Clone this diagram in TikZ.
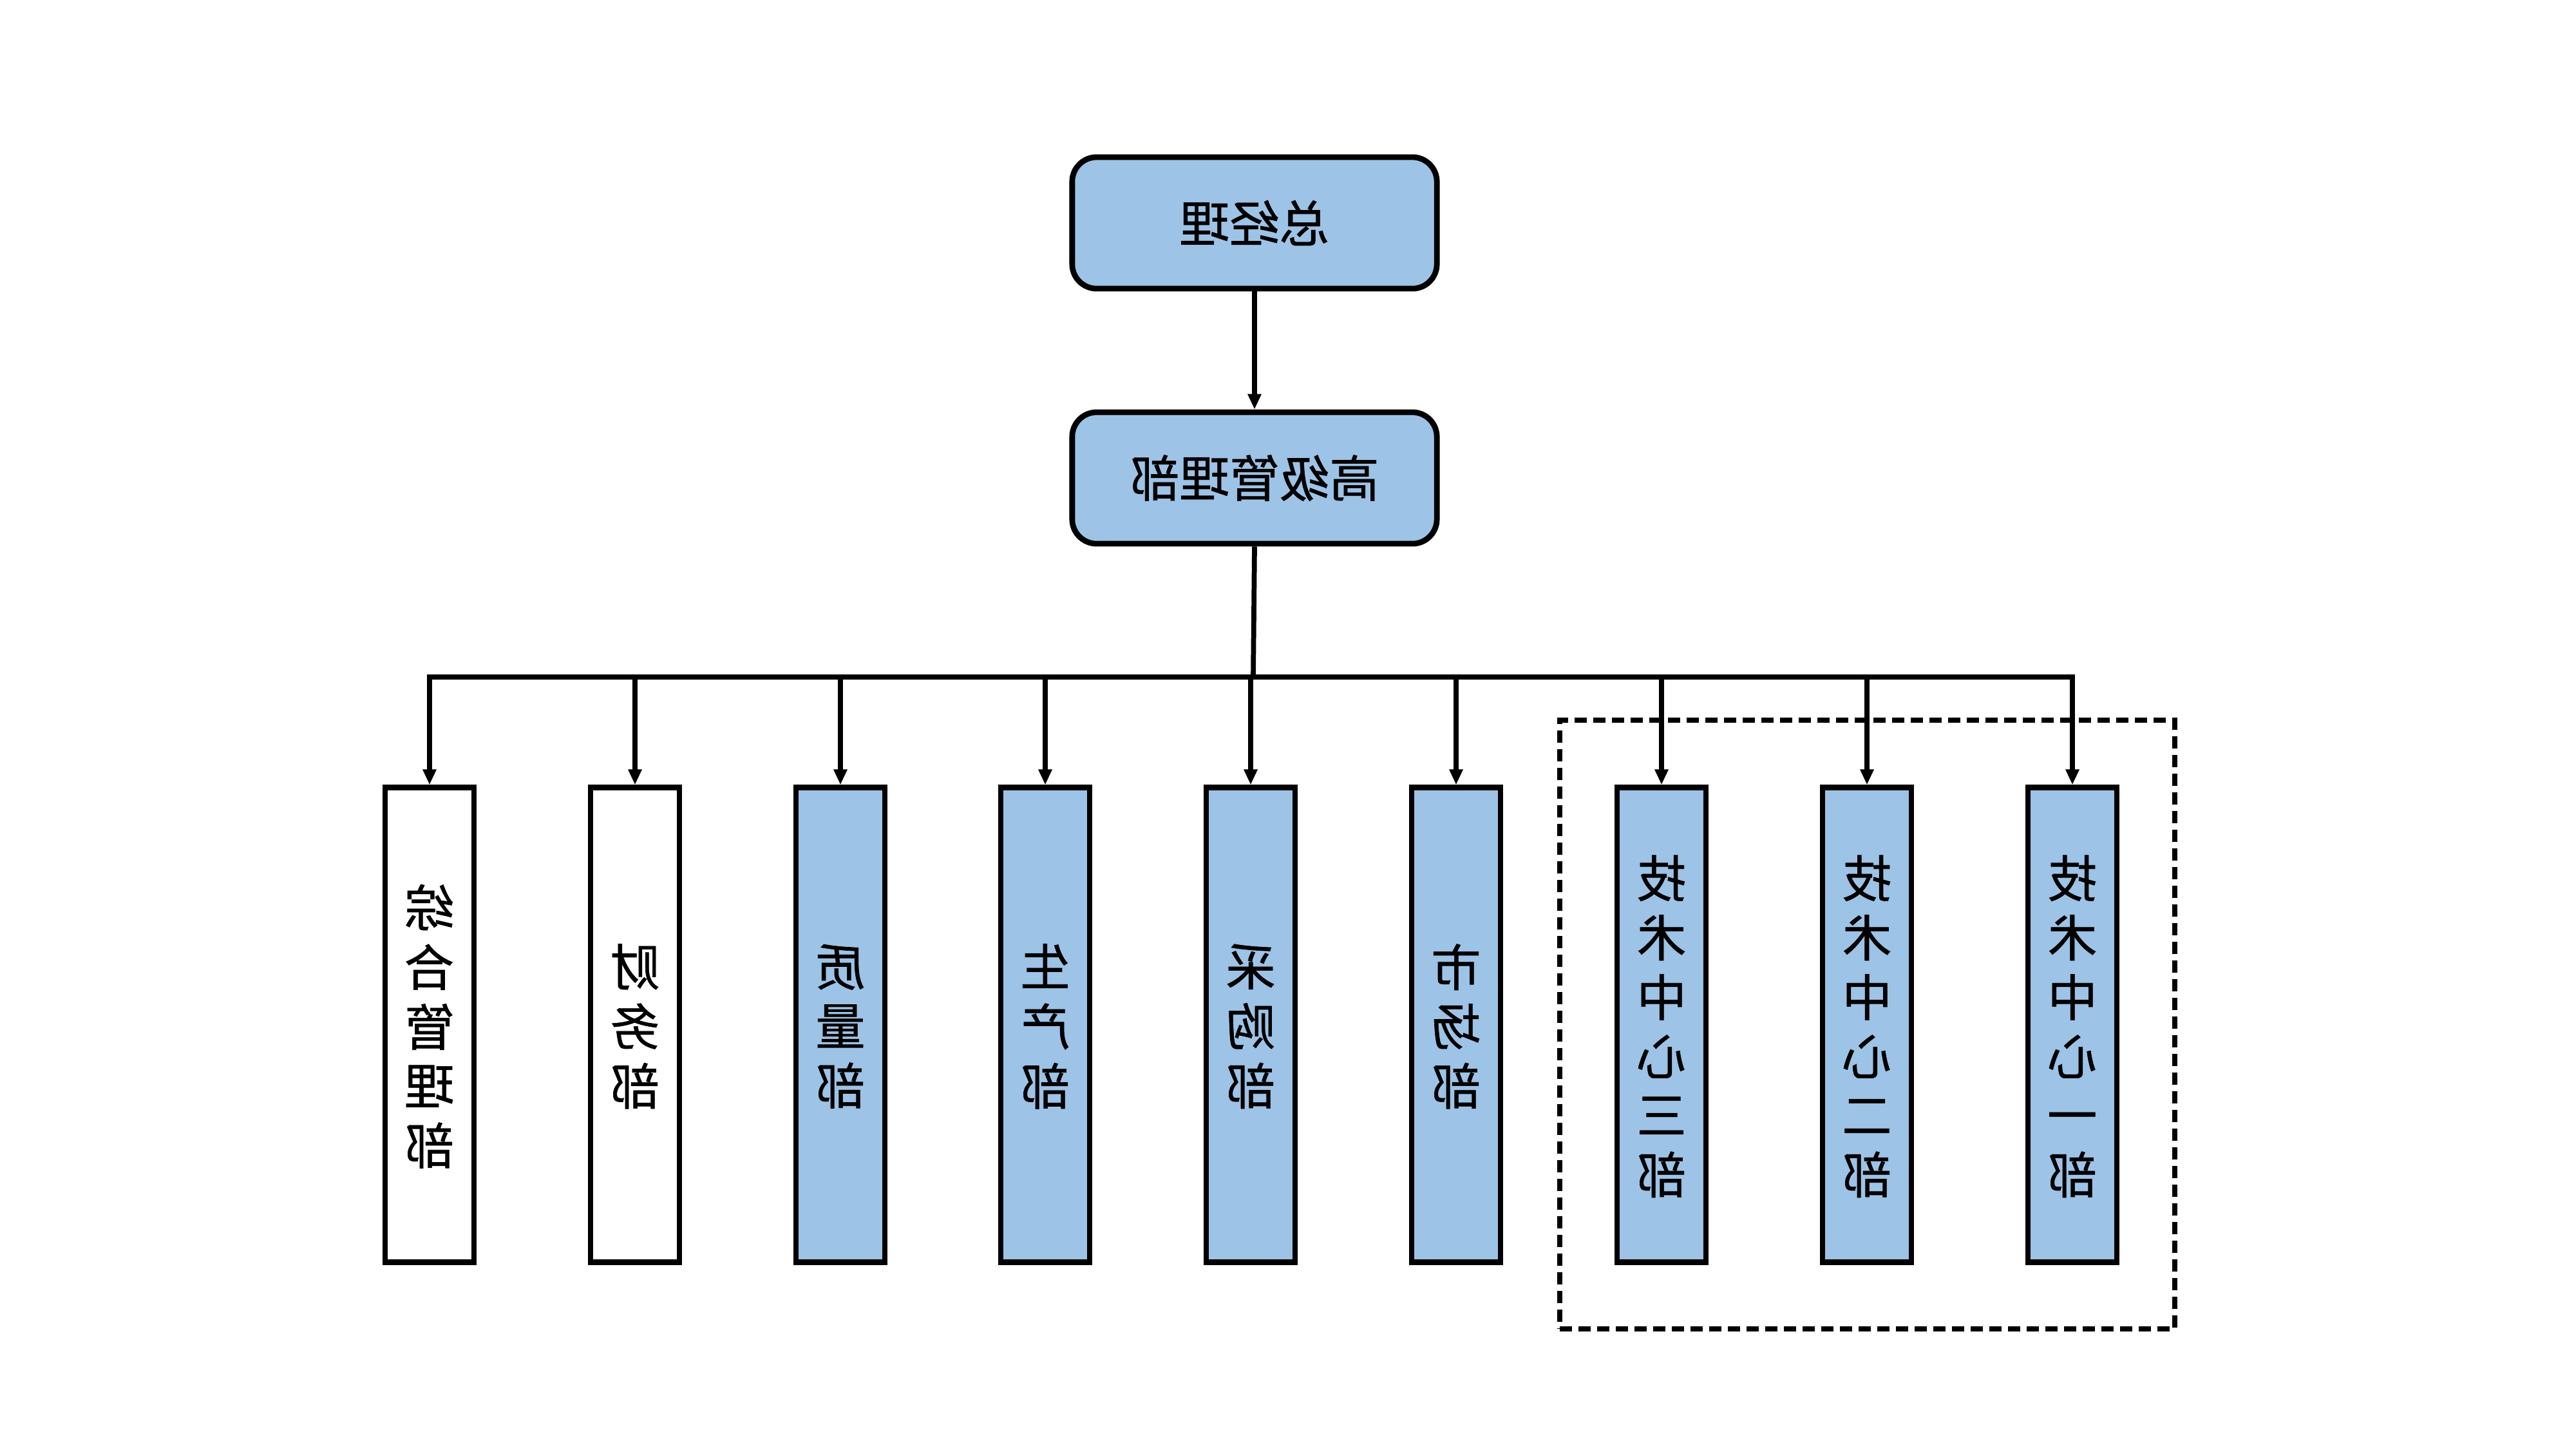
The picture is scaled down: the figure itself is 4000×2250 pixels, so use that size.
\documentclass[tikz,border=0pt]{standalone}
\usepackage{fontspec}
\usepackage{graphicx}
\newfontfamily\cjk[FakeBold=0.8]{Noto Sans CJK SC}
\usetikzlibrary{arrows.meta}
\definecolor{boxblue}{RGB}{157,195,230}
\newcommand{\vtext}[1]{\raisebox{-3.7pt}[\height][\depth]{\reflectbox{\begin{tabular}{@{}c@{}}#1\end{tabular}}}}
\tikzset{
  topbox/.style={draw=black, line width=2.5pt, fill=boxblue, rounded corners=0.38cm,
    minimum width=5.66cm, minimum height=2.04cm, inner sep=0pt,
    font=\cjk\fontsize{22pt}{26pt}\selectfont},
  deptbox/.style={draw=black, line width=2.5pt, minimum width=1.38cm, minimum height=7.36cm,
    inner sep=0pt, font=\cjk\fontsize{22pt}{26pt}\selectfont},
  bluedept/.style={deptbox, fill=boxblue},
  whitedept/.style={deptbox, fill=white},
  conn/.style={draw=black, line width=2.2pt},
  arr/.style={conn, -{Triangle[length=0.24cm, width=0.2cm]}},
  groupbox/.style={draw=black, line width=2.2pt, dash pattern=on 0.19cm off 0.1cm}
}
\begin{document}
\begin{tikzpicture}[x=0.01cm, y=-0.01cm]
\useasboundingbox (0,0) rectangle (4000,2250);
\fill[white] (0,0) rectangle (4000,2250);

\node[topbox] (gm) at (1948,346) {\reflectbox{总经理}};
\node[topbox] (sm) at (1948,742) {\reflectbox{高级管理部}};

\node[whitedept] (d1) at (667,1591) {\vtext{综\\合\\管\\理\\部}};
\node[whitedept] (d2) at (986,1591) {\vtext{财\\务\\部}};
\node[bluedept] (d3) at (1305,1591) {\vtext{质\\量\\部}};
\node[bluedept] (d4) at (1623,1591) {\vtext{生\\产\\部}};
\node[bluedept] (d5) at (1942,1591) {\vtext{采\\购\\部}};
\node[bluedept] (d6) at (2261,1591) {\vtext{市\\场\\部}};
\node[bluedept] (d7) at (2580,1591) {\vtext{技\\术\\中\\心\\三\\部}};
\node[bluedept] (d8) at (2899,1591) {\vtext{技\\术\\中\\心\\二\\部}};
\node[bluedept] (d9) at (3218,1591) {\vtext{技\\术\\中\\心\\一\\部}};

\node[groupbox, minimum width=9.55cm, minimum height=9.45cm, inner sep=0pt] (grp) at (2899.5,1590.5) {};

\draw[arr] (gm) -- (sm);

\foreach \i/\x in {1/667,2/986,3/1305,4/1623,5/1942,6/2261,7/2580,8/2899,9/3218}{
  \coordinate (b\i) at (\x,1051);
}
\coordinate (bm) at (1946,1051);
\draw[conn] (sm.south) -- (bm);
\draw[conn, line cap=rect] (b1) -- (b9);
\foreach \i in {1,...,9}{
  \draw[arr] (b\i) -- (d\i.north);
}
\end{tikzpicture}
\end{document}
